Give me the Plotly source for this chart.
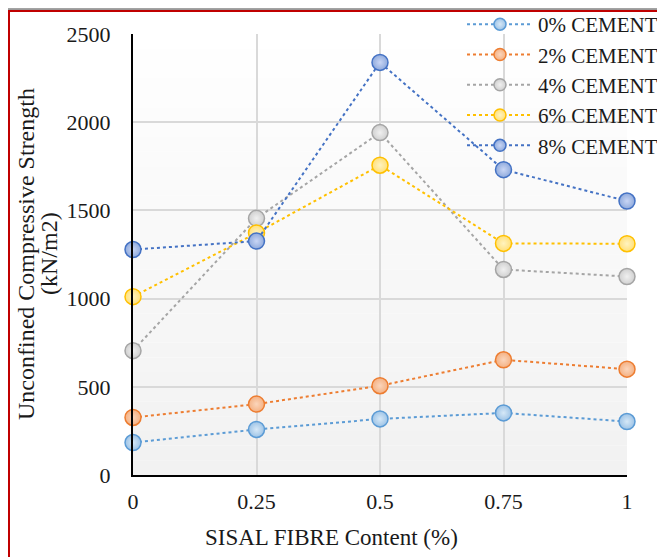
import plotly.graph_objects as go

fibre = [0, 0.25, 0.5, 0.75, 1]
series_names = ["0% CEMENT", "2% CEMENT", "4% CEMENT", "6% CEMENT", "8% CEMENT"]
cement_0 = [184, 258, 318, 352, 303]
cement_2 = [326, 402, 506, 653, 600]
cement_4 = [705, 1455, 1941, 1165, 1125]
cement_6 = [1011, 1372, 1756, 1313, 1311]
cement_8 = [1278, 1326, 2339, 1731, 1553]
y_ticks = [0, 500, 1000, 1500, 2000, 2500]
x_ticks = [0, 0.25, 0.5, 0.75, 1]
x_tick_labels = ["0", "0.25", "0.5", "0.75", "1"]

values = [cement_0, cement_2, cement_4, cement_6, cement_8]
line_cols = ["#5b9bd5", "#ed7d31", "#a5a5a5", "#ffc000", "#4472c4"]
fill_cols = ["#9dc3e6", "#f4b183", "#d0d0d0", "#ffe07a", "#8faadc"]
center_cols = ["#d6e8f7", "#fbd5bb", "#f0f0f0", "#fff3c0", "#c9d6f5"]

W, H = 665, 557
OFF = 8  # page body margin
SX0, SX1, SY0, SY1 = 133, 627, 34, 475
L, T = SX0 - OFF, SY0 - OFF
PW, PH = SX1 - SX0, SY1 - SY0
R, B = W - L - PW, H - T - PH

def px(x):
    return (x - SX0) / PW

def py(y):
    return (SY1 - y) / PH

FONT = "Liberation Serif"
TXT = "#1a1a1a"

fig = go.Figure()
for name, vals, lc, fc, cc in zip(series_names, values, line_cols, fill_cols, center_cols):
    fig.add_trace(go.Scatter(
        x=fibre, y=vals, name=name, mode="lines+markers", showlegend=False,
        line=dict(color=lc, width=2, dash="dot"),
        marker=dict(size=16, color=fc, line=dict(color=lc, width=1.5),
                    gradient=dict(type="radial", color=cc)),
        cliponaxis=False,
    ))
# legend entries (smaller symbols, as in the reference legend)
for name, lc, fc, cc in zip(series_names, line_cols, fill_cols, center_cols):
    fig.add_trace(go.Scatter(
        x=[None], y=[None], name=name, mode="lines+markers",
        line=dict(color=lc, width=2, dash="dot"),
        marker=dict(size=12, color=fc, line=dict(color=lc, width=1.5),
                    gradient=dict(type="radial", color=cc)),
    ))

shapes = []
n = 30
for i in range(n):
    g = int(255 - (i / (n - 1)) * 13)
    shapes.append(dict(type="rect", xref="x domain", yref="y domain",
                       x0=0, x1=1, y0=1 - (i + 1) / n, y1=1 - i / n,
                       fillcolor=f"rgb({g},{g},{g})", line=dict(width=0), layer="below"))
for i in range(10):
    g = int(235 - i * 9)
    shapes.append(dict(type="rect", xref="paper", yref="paper",
                       x0=px(-20), x1=px(W + 20), y0=py(i + 1), y1=py(i - 10 if i == 0 else i),
                       fillcolor=f"rgb({g},{g},{g})", line=dict(width=0), layer="below"))
shapes.append(dict(type="rect", xref="paper", yref="paper",
                   x0=px(9), x1=px(W + 30), y0=py(H + 30), y1=py(11),
                   fillcolor="rgba(0,0,0,0)", line=dict(color="#c00000", width=2)))

fig.update_layout(
    width=W, height=H,
    margin=dict(l=L, r=R, t=T, b=B, autoexpand=False),
    paper_bgcolor="white", plot_bgcolor="white",
    font=dict(family=FONT, size=22, color=TXT),
    shapes=shapes,
    showlegend=True,
    legend=dict(x=px(462), y=py(4), xanchor="left", yanchor="top",
                bgcolor="rgba(0,0,0,0)", font=dict(family=FONT, size=21, color=TXT),
                itemwidth=66, tracegroupgap=0),
    xaxis=dict(range=[0, 1], tickvals=x_ticks, ticktext=x_tick_labels,
               showgrid=True, gridcolor="#d9d9d9", gridwidth=1.5,
               showline=True, linecolor="black", linewidth=2,
               ticks="outside", ticklen=6, tickcolor="rgba(0,0,0,0)",
               zeroline=False, tickfont=dict(size=22), automargin=False),
    yaxis=dict(range=[0, 2500], tickvals=y_ticks,
               showgrid=True, gridcolor="#d9d9d9", gridwidth=1.5,
               showline=True, linecolor="black", linewidth=2,
               ticks="outside", ticklen=16, tickcolor="rgba(0,0,0,0)",
               zeroline=False, tickfont=dict(size=22), automargin=False),
    annotations=[
        dict(text="SISAL FIBRE Content (%)", xref="paper", yref="paper",
             x=px(331), y=py(537), xanchor="center", yanchor="middle",
             showarrow=False, font=dict(size=23)),
        dict(text="Unconfined Compressive Strength", xref="paper", yref="paper",
             x=px(26), y=py(254), xanchor="center", yanchor="middle", textangle=-90,
             showarrow=False, font=dict(size=24)),
        dict(text="(kN/m2)", xref="paper", yref="paper",
             x=px(49), y=py(254), xanchor="center", yanchor="middle", textangle=-90,
             showarrow=False, font=dict(size=24)),
    ],
)

fig.write_html("out.html")
